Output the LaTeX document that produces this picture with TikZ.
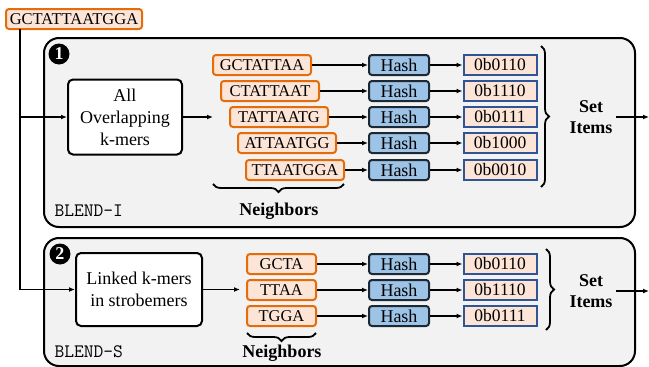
\documentclass[tikz,border=0pt]{standalone}
\usepackage{fontspec}
\setmainfont{Liberation Serif}
\usepackage{xcolor}
\usetikzlibrary{arrows.meta,decorations.pathreplacing}

\definecolor{kmerline}{HTML}{E46C0A}
\definecolor{kmerfill}{HTML}{FCE4D6}
\definecolor{hashfill}{HTML}{9DC3E6}
\definecolor{hashline}{HTML}{1C2833}
\definecolor{bitsline}{HTML}{2F5597}
\definecolor{panelfill}{HTML}{F2F2F2}

\begin{document}
\begin{tikzpicture}[
        x=1pt, y=-1pt,
        every node/.style = {font=\fontsize{18}{22}\selectfont},
        kmer/.style = {draw=kmerline, fill=kmerfill, line width=2pt, rounded corners=3pt,
                       minimum width=98pt, minimum height=20pt, inner sep=0pt,
                       font=\fontsize{16.5}{18}\selectfont},
        short/.style = {kmer, minimum width=69pt},
        hashbox/.style = {draw=hashline, fill=hashfill, line width=2pt, rounded corners=3pt,
                       minimum width=60pt, minimum height=20pt, inner sep=0pt},
        bits/.style = {draw=bitsline, fill=kmerfill, line width=2pt,
                       minimum width=73pt, minimum height=20pt, inner sep=0pt,
                       font=\fontsize{17.5}{20}\selectfont},
        step box/.style = {draw, fill=white, line width=2pt, rounded corners=5pt, align=center},
        panel/.style = {draw, fill=panelfill, line width=2pt, rounded corners=15pt},
        numdot/.style = {circle, fill=black, text=white, inner sep=0pt, minimum size=21pt,
                       font=\fontsize{18}{18}\selectfont\bfseries},
        tag/.style = {anchor=west, font=\fontsize{19}{20}\selectfont\ttfamily},
        setlbl/.style = {align=center, font=\fontsize{18}{21}\selectfont\bfseries},
        conn/.style = {line width=1.5pt, -{Latex[length=6pt,width=5pt]}},
        brc/.style = {line width=1.8pt, decorate, decoration={brace, amplitude=8pt}}
    ]
        \useasboundingbox (0,0) rectangle (649,367);

        % panels
        \draw[panel] (44,38) rectangle (635,227);
        \draw[panel] (44,238) rectangle (635,366);
        \node[numdot] (n1) at (59,54) {1};
        \node[numdot] (n2) at (60,254) {2};
        \node[tag] (blendi) at (51,211) {BLEND-I};
        \node[tag] (blends) at (51,352) {BLEND-S};

        % input sequence
        \node[kmer, minimum width=136pt] (seq) at (74,19) {GCTATTAATGGA};
        \coordinate (split) at (20,29);

        % BLEND-I
        \node[step box, minimum width=114pt, minimum height=75pt] (allk) at (125,117) {All\\Overlapping\\k-mers};
        \node[kmer] (k1) at (262,65) {GCTATTAA};
        \node[kmer] (k2) at (270,91) {CTATTAAT};
        \node[kmer] (k3) at (279,117) {TATTAATG};
        \node[kmer] (k4) at (287,143) {ATTAATGG};
        \node[kmer] (k5) at (295,170) {TTAATGGA};
        \node[hashbox] (h1) at (399,65) {Hash};
        \node[hashbox] (h2) at (399,91) {Hash};
        \node[hashbox] (h3) at (399,117) {Hash};
        \node[hashbox] (h4) at (399,143) {Hash};
        \node[hashbox] (h5) at (399,170) {Hash};
        \node[bits] (b1) at (500,65) {0b0110};
        \node[bits] (b2) at (500,91) {0b1110};
        \node[bits] (b3) at (500,117) {0b0111};
        \node[bits] (b4) at (500,143) {0b1000};
        \node[bits] (b5) at (500,170) {0b0010};
        \node[setlbl] (set1) at (591,117) {Set\\Items};
        \coordinate (out1) at (649,117);
        \coordinate (in1) at (213,117);
        \node[setlbl] (nb1) at (279,211) {Neighbors};

        \draw[conn] (split) |- (allk.west);
        \draw[conn] (allk.east) -- (in1);
        \draw[conn] (k1) -- (h1);
        \draw[conn] (k2) -- (h2);
        \draw[conn] (k3) -- (h3);
        \draw[conn] (k4) -- (h4);
        \draw[conn] (k5) -- (h5);
        \draw[conn] (h1) -- (b1);
        \draw[conn] (h2) -- (b2);
        \draw[conn] (h3) -- (b3);
        \draw[conn] (h4) -- (b4);
        \draw[conn] (h5) -- (b5);
        \draw[conn] (set1.east) -- (out1);
        \draw[brc] (541,46) -- (541,187);
        \draw[brc] (344,184) -- (213,184);

        % BLEND-S
        \node[step box, minimum width=126pt, minimum height=73pt] (linked) at (139,289.5) {Linked k-mers\\in strobemers};
        \node[short] (s1) at (281.5,264) {GCTA};
        \node[short] (s2) at (281.5,290) {TTAA};
        \node[short] (s3) at (281.5,316) {TGGA};
        \node[hashbox] (g1) at (399,264) {Hash};
        \node[hashbox] (g2) at (399,290) {Hash};
        \node[hashbox] (g3) at (399,316) {Hash};
        \node[bits] (c1) at (500,264) {0b0110};
        \node[bits] (c2) at (500,290) {0b1110};
        \node[bits] (c3) at (500,316) {0b0111};
        \node[setlbl] (set2) at (591,291) {Set\\Items};
        \coordinate (out2) at (649,291);
        \coordinate (in2) at (240,289.5);
        \node[setlbl] (nb2) at (282,353) {Neighbors};

        \draw[conn] (split) |- (linked.west);
        \draw[conn] (linked.east) -- (in2);
        \draw[conn] (s1) -- (g1);
        \draw[conn] (s2) -- (g2);
        \draw[conn] (s3) -- (g3);
        \draw[conn] (g1) -- (c1);
        \draw[conn] (g2) -- (c2);
        \draw[conn] (g3) -- (c3);
        \draw[conn] (set2.east) -- (out2);
        \draw[brc] (546,249) -- (546,330);
        \draw[brc] (316,333) -- (247,333);
    \end{tikzpicture}
\end{document}
